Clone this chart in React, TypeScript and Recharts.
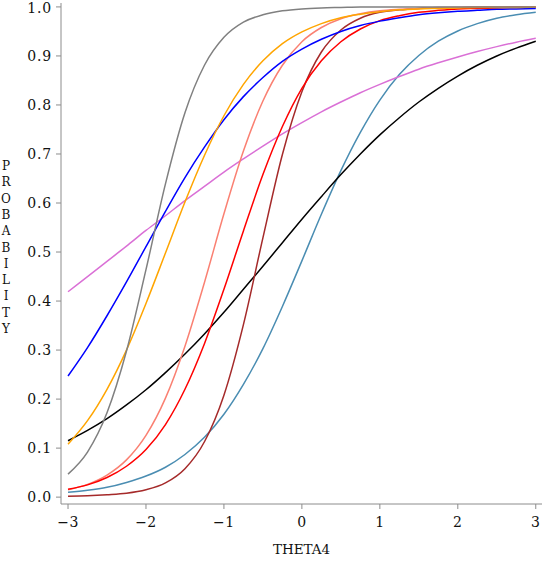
import { LineChart, Line, XAxis, YAxis } from "recharts";

// theta grid (x axis)
const theta = [
  -3, -2.75, -2.5, -2.25, -2, -1.75, -1.5, -1.25, -1, -0.75, -0.5, -0.25, 0,
  0.25, 0.5, 0.75, 1, 1.25, 1.5, 1.75, 2, 2.25, 2.5, 2.75, 3,
];

// item curves
const gray = [
  0.047, 0.092, 0.172, 0.298, 0.464, 0.639, 0.784, 0.881, 0.938, 0.969, 0.984, 0.992, 0.996,
  0.998, 0.999, 1.0, 1.0, 1.0, 1.0, 1.0, 1.0, 1.0, 1.0, 1.0, 1.0,
];
const orange = [
  0.108, 0.156, 0.22, 0.3, 0.395, 0.498, 0.602, 0.697, 0.778, 0.842, 0.89, 0.925, 0.949,
  0.966, 0.978, 0.985, 0.99, 0.994, 0.996, 0.997, 0.998, 0.999, 0.999, 0.999, 1.0,
];
const blue = [
  0.247, 0.305, 0.37, 0.439, 0.511, 0.583, 0.652, 0.714, 0.77, 0.817, 0.856, 0.889, 0.914,
  0.934, 0.95, 0.962, 0.971, 0.978, 0.984, 0.988, 0.991, 0.993, 0.995, 0.996, 0.997,
];
const violet = [
  0.419, 0.45, 0.481, 0.512, 0.544, 0.574, 0.605, 0.634, 0.663, 0.69, 0.716, 0.741, 0.764,
  0.786, 0.806, 0.825, 0.842, 0.858, 0.873, 0.886, 0.898, 0.909, 0.919, 0.928, 0.936,
];
const black = [
  0.115, 0.136, 0.16, 0.188, 0.219, 0.254, 0.292, 0.333, 0.377, 0.424, 0.471, 0.519, 0.567,
  0.613, 0.658, 0.7, 0.739, 0.774, 0.806, 0.834, 0.859, 0.881, 0.9, 0.916, 0.93,
];
const salmon = [
  0.015, 0.026, 0.045, 0.076, 0.126, 0.202, 0.308, 0.438, 0.578, 0.706, 0.808, 0.881, 0.929,
  0.958, 0.976, 0.986, 0.992, 0.995, 0.997, 0.998, 0.999, 1.0, 1.0, 1.0, 1.0,
];
const red = [
  0.016, 0.025, 0.04, 0.063, 0.097, 0.148, 0.22, 0.313, 0.424, 0.543, 0.658, 0.756, 0.834,
  0.89, 0.929, 0.955, 0.972, 0.982, 0.989, 0.993, 0.996, 0.997, 0.998, 0.999, 0.999,
];
const brown = [
  0.002, 0.003, 0.005, 0.008, 0.015, 0.029, 0.058, 0.113, 0.208, 0.352, 0.529, 0.699, 0.827,
  0.908, 0.953, 0.977, 0.989, 0.994, 0.997, 0.999, 0.999, 1.0, 1.0, 1.0, 1.0,
];
const teal = [
  0.01, 0.014, 0.02, 0.03, 0.043, 0.061, 0.087, 0.122, 0.169, 0.23, 0.303, 0.389, 0.482,
  0.577, 0.666, 0.744, 0.81, 0.862, 0.901, 0.93, 0.951, 0.966, 0.977, 0.984, 0.989,
];

const xTicks = [-3, -2, -1, 0, 1, 2, 3];
const yTicks = [0, 0.1, 0.2, 0.3, 0.4, 0.5, 0.6, 0.7, 0.8, 0.9, 1.0];
const yTitle = "PROBABILITY";

const series = [
  { key: "teal", values: teal, color: "#4a8db2" },
  { key: "black", values: black, color: "#000000" },
  { key: "violet", values: violet, color: "#da70d6" },
  { key: "brown", values: brown, color: "#a52a2a" },
  { key: "salmon", values: salmon, color: "#fa8072" },
  { key: "red", values: red, color: "#ff0000" },
  { key: "blue", values: blue, color: "#0000ff" },
  { key: "orange", values: orange, color: "#ffa500" },
  { key: "gray", values: gray, color: "#808080" },
];

const data = theta.map((t, i) => {
  const row: Record<string, number> = { theta: t };
  series.forEach((s) => {
    row[s.key] = s.values[i];
  });
  return row;
});

const font = "'DejaVu Serif', serif";
const frame = "#8c8c8c";

function YTitle() {
  return (
    <text fontFamily={font} fontSize={12} fill="#111" textAnchor="middle">
      {yTitle.split("").map((ch, i) => (
        <tspan key={i} x={6} y={170 + i * 16.3}>
          {ch}
        </tspan>
      ))}
    </text>
  );
}

export default function App() {
  return (
    <div style={{ position: "absolute", left: 0, top: 0, background: "#fff" }}>
      <LineChart
        width={546}
        height={568}
        data={data}
        margin={{ top: 3, right: 4, bottom: 0, left: 0 }}
      >
        <XAxis
          dataKey="theta"
          type="number"
          domain={[-3.09, 3.08]}
          allowDataOverflow
          ticks={xTicks}
          tickFormatter={(v: number) => String(v).replace("-", "\u2212")}
          height={64}
          tickSize={5}
          tickMargin={8}
          tick={{ fontFamily: font, fontSize: 14, fill: "#111", letterSpacing: 0.5 }}
          axisLine={{ stroke: frame }}
          tickLine={{ stroke: frame }}
          label={{
            value: "THETA4",
            position: "insideBottom",
            offset: 14,
            style: { fontFamily: font, fontSize: 13.5, fill: "#111" },
          }}
        />
        <XAxis
          xAxisId="top"
          orientation="top"
          type="number"
          domain={[-3.09, 3.08]}
          height={0}
          tick={false}
          tickLine={false}
          axisLine={{ stroke: frame }}
        />
        <YAxis
          type="number"
          domain={[-0.014, 1.008]}
          allowDataOverflow
          ticks={yTicks}
          tickFormatter={(v: number) => v.toFixed(1)}
          width={61}
          tickSize={5}
          tickMargin={4}
          tick={{ fontFamily: font, fontSize: 14, fill: "#111", letterSpacing: 0.8 }}
          axisLine={{ stroke: frame }}
          tickLine={{ stroke: frame }}
          label={{ content: () => <YTitle /> }}
        />
        <YAxis
          yAxisId="right"
          orientation="right"
          type="number"
          domain={[-0.014, 1.008]}
          width={0}
          tick={false}
          tickLine={false}
          axisLine={{ stroke: frame }}
        />
        {series.map((s) => (
          <Line
            key={s.key}
            dataKey={s.key}
            type="monotone"
            stroke={s.color}
            strokeWidth={1.5}
            dot={false}
            activeDot={false}
            isAnimationActive={false}
          />
        ))}
      </LineChart>
    </div>
  );
}
